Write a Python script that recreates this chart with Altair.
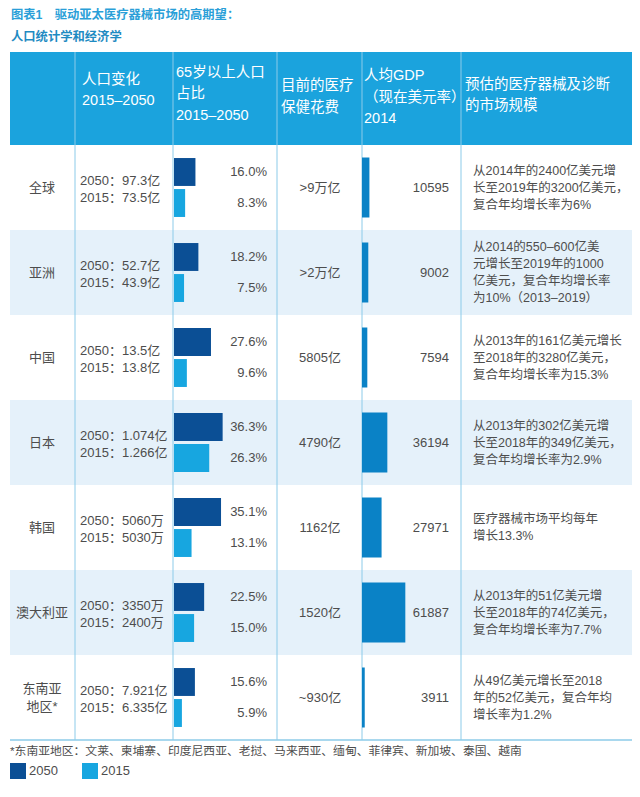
import altair as alt
import pandas as pd

# ---------------- data ----------------
title_text = "图表1　驱动亚太医疗器械市场的高期望："
subtitle_text = "人口统计学和经济学"
header_labels = [
    "人口变化\n2015–2050",
    "65岁以上人口\n占比\n2015–2050",
    "目前的医疗\n保健花费",
    "人均GDP\n（现在美元率）\n2014",
    "预估的医疗器械及诊断\n的市场规模",
]
regions = ["全球", "亚洲", "中国", "日本", "韩国", "澳大利亚", "东南亚地区*"]
region_labels = ["全球", "亚洲", "中国", "日本", "韩国", "澳大利亚", "东南亚\n地区*"]
pop_2050 = ["97.3亿", "52.7亿", "13.5亿", "1.074亿", "5060万", "3350万", "7.921亿"]
pop_2015 = ["73.5亿", "43.9亿", "13.8亿", "1.266亿", "5030万", "2400万", "6.335亿"]
old_2050 = [16.0, 18.2, 27.6, 36.3, 35.1, 22.5, 15.6]
old_2015 = [8.3, 7.5, 9.6, 26.3, 13.1, 15.0, 5.9]
health_spend = [">9万亿", ">2万亿", "5805亿", "4790亿", "1162亿", "1520亿", "~930亿"]
gdp_per_capita = [10595, 9002, 7594, 36194, 27971, 61887, 3911]
market_size = [
    "从2014年的2400亿美元增\n长至2019年的3200亿美元，\n复合年均增长率为6%",
    "从2014的550–600亿美\n元增长至2019年的1000\n亿美元，复合年均增长率\n为10%（2013–2019）",
    "从2013年的161亿美元增长\n至2018年的3280亿美元，\n复合年均增长率为15.3%",
    "从2013年的302亿美元增\n长至2018年的349亿美元，\n复合年均增长率为2.9%",
    "医疗器械市场平均每年\n增长13.3%",
    "从2013年的51亿美元增\n长至2018年的74亿美元，\n复合年均增长率为7.7%",
    "从49亿美元增长至2018\n年的52亿美元，复合年均\n增长率为1.2%",
]
footnote = "*东南亚地区：文莱、柬埔寨、印度尼西亚、老挝、马来西亚、缅甸、菲律宾、新加坡、泰国、越南"
years = ["2050", "2015"]

# ---------------- style ----------------
FONT = "Liberation Sans, Noto Sans CJK SC"
TXT = "#4d4d4d"
DARK = "#0b4f95"
LIGHT = "#17a6e0"
GDPC = "#0a82c6"
HEAD = "#1ba3dd"
BAND = "#e5f1fa"
LINE = "#8ccbe9"
W, H = 624, 781


def P(v):
    return v - 8


rows = pd.DataFrame({
    "region": regions,
    "label": region_labels,
    "pop": [f"2050：{a}\n2015：{b}" for a, b in zip(pop_2050, pop_2015)],
    "health": health_spend,
    "gdp": gdp_per_capita,
    "market": market_size,
    "shade": [i % 2 for i in range(len(regions))],
})
for col in ["label", "pop", "market"]:
    rows[col + "_n"] = rows[col].str.count("\n") + 1

old = pd.DataFrame({
    "region": regions * 2,
    "year": ["2050"] * len(regions) + ["2015"] * len(regions),
    "pct": old_2050 + old_2015,
})
old["plabel"] = old["pct"].map(lambda v: f"{v:.1f}%")
one = pd.DataFrame({"k": [0]})

yscale = alt.Scale(type="band", domain=regions, range=[P(145), P(740)], paddingInner=0, paddingOuter=0)
Y = alt.Y("region:N", scale=yscale, axis=None)
yoff = alt.YOffset("year:N", scale=alt.Scale(domain=years, paddingInner=0.1, paddingOuter=0.42))
color = alt.Color("year:N", scale=alt.Scale(domain=years, range=[DARK, LIGHT]), legend=None)

layers = []

# row bands
layers.append(alt.Chart(rows).transform_filter("datum.shade == 1").mark_rect(color=BAND).encode(
    y=Y, x=alt.value(P(10)), x2=alt.value(P(632))))
# header
layers.append(alt.Chart(one).mark_rect(color=HEAD).encode(
    x=alt.value(P(10)), x2=alt.value(P(632)), y=alt.value(P(52)), y2=alt.value(P(145))))
# vertical lines
for cx in [75, 173, 277, 362, 461]:
    layers.append(alt.Chart(one).mark_rule(color=LINE, strokeWidth=1).encode(
        x=alt.value(P(cx)), y=alt.value(P(52)), y2=alt.value(P(740))))
# bottom line
layers.append(alt.Chart(one).mark_rule(color=LINE, strokeWidth=1.5).encode(
    x=alt.value(P(10)), x2=alt.value(P(632)), y=alt.value(P(740))))

# 65+ bars
layers.append(alt.Chart(old).mark_bar().encode(
    x=alt.X("pct:Q", scale=alt.Scale(domain=[0, 40], range=[P(174), P(174) + 53.6]), axis=None),
    y=Y, yOffset=yoff, color=color))
layers.append(alt.Chart(old).mark_text(align="right", baseline="middle", font=FONT, fontSize=13, color=TXT).encode(
    x=alt.value(P(267)), y=Y, yOffset=yoff, text="plabel:N"))

# GDP bars
layers.append(alt.Chart(rows).mark_bar(color=GDPC, height=60).encode(
    x=alt.X("gdp:Q", scale=alt.Scale(domain=[0, 100000], range=[P(362), P(432)]), axis=None),
    y=Y))
layers.append(alt.Chart(rows).mark_text(align="right", baseline="middle", font=FONT, fontSize=13, color=TXT).encode(
    x=alt.value(P(449)), y=Y, text="gdp:N"))


def multiline(field, x, align, lh, size, dy0=0.0):
    for n in sorted(rows[field + "_n"].unique()):
        layers.append(alt.Chart(rows).transform_filter(alt.datum[field + "_n"] == int(n)).mark_text(
            align=align, baseline="middle", font=FONT, fontSize=size, color=TXT,
            lineBreak="\n", lineHeight=lh, dy=dy0 - (int(n) - 1) * lh / 2).encode(
            x=alt.value(P(x)), y=Y, text=f"{field}:N"))


multiline("label", 42, "center", 18, 13)
multiline("pop", 80, "left", 17, 13, dy0=1.5)
multiline("market", 473, "left", 17, 12.5)

# health
layers.append(alt.Chart(rows).mark_text(align="center", baseline="middle", font=FONT, fontSize=13, color=TXT).encode(
    x=alt.value(P(320)), y=Y, text="health:N"))

# header texts
head_pos = [(82, 90.5), (176, 94), (281, 97), (364, 97.5), (465, 95.5)]
for lab, (hx, hy) in zip(header_labels, head_pos):
    n = lab.count("\n") + 1
    layers.append(alt.Chart(one).mark_text(align="left", baseline="middle", font=FONT, fontSize=14.5, color="white",
                                           lineBreak="\n", lineHeight=21.5, dy=-(n - 1) * 21.5 / 2).encode(
        x=alt.value(P(hx)), y=alt.value(P(hy)), text=alt.value(lab)))

# title / subtitle
layers.append(alt.Chart(one).mark_text(align="left", baseline="middle", font=FONT, fontSize=12.3, fontWeight="bold",
                                       color="#2a9fd8").encode(
    x=alt.value(P(11)), y=alt.value(P(15)), text=alt.value(title_text)))
layers.append(alt.Chart(one).mark_text(align="left", baseline="middle", font=FONT, fontSize=12.3, fontWeight="bold",
                                       color="#1f8bc2").encode(
    x=alt.value(P(11)), y=alt.value(P(37)), text=alt.value(subtitle_text)))

# footnote
layers.append(alt.Chart(one).mark_text(align="left", baseline="middle", font=FONT, fontSize=11.8, color=TXT).encode(
    x=alt.value(P(10)), y=alt.value(P(751)), text=alt.value(footnote)))

# legend
leg = pd.DataFrame({"year": years})
for yr, lx in zip(years, [10, 82]):
    layers.append(alt.Chart(leg).transform_filter(f"datum.year == '{yr}'").mark_rect().encode(
        x=alt.value(P(lx)), x2=alt.value(P(lx + 16)), y=alt.value(P(763)), y2=alt.value(P(779)), color=color))
    layers.append(alt.Chart(leg).transform_filter(f"datum.year == '{yr}'").mark_text(
        align="left", baseline="middle", font=FONT, fontSize=13, color=TXT).encode(
        x=alt.value(P(lx + 19)), y=alt.value(P(771)), text="year:N"))

chart = alt.layer(*layers).resolve_scale(x="independent").properties(
    width=W, height=H, autosize=alt.AutoSizeParams(type="none"), padding=0,
).configure_view(stroke=None)

chart.save("out.html", embed_options={"renderer": "svg", "actions": False})
